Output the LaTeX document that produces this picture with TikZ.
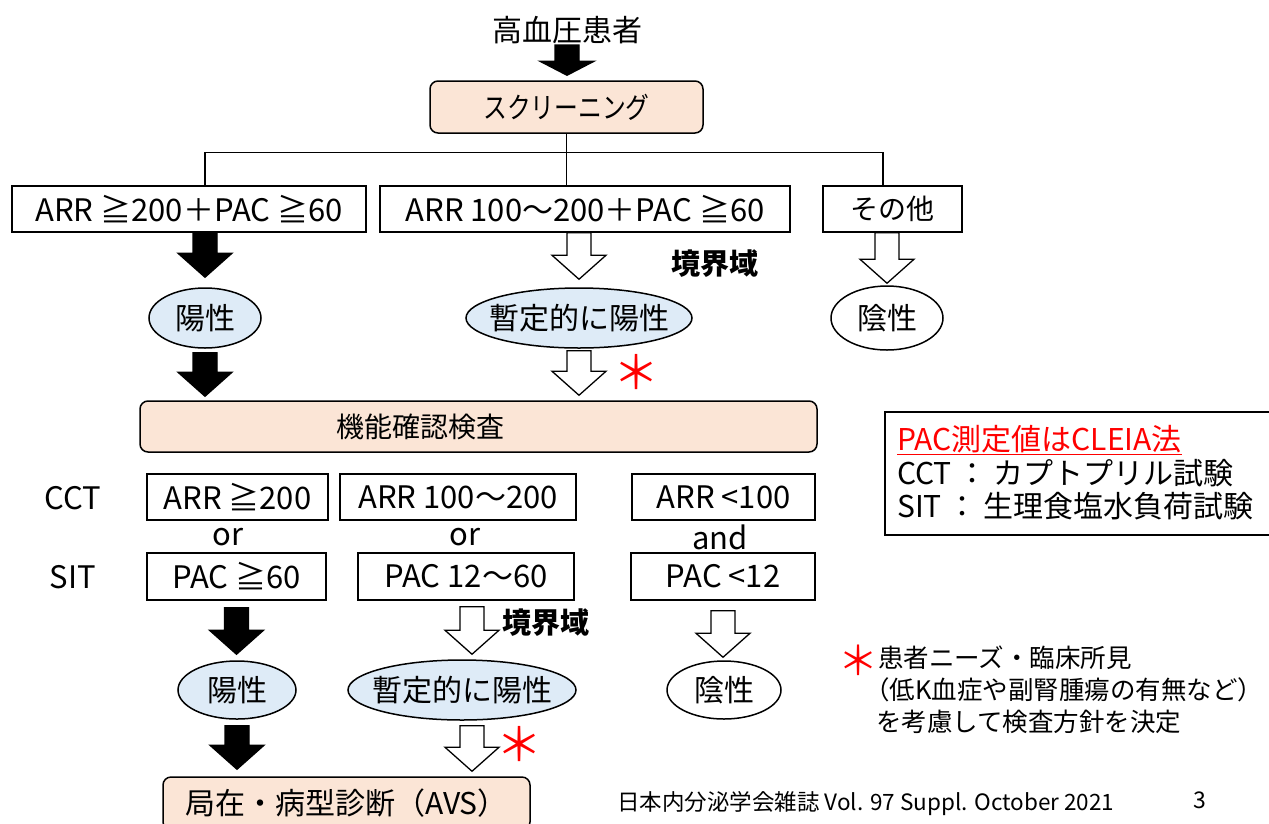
\documentclass[tikz,border=0pt]{standalone}
\usepackage{fontspec}
\setmainfont{Noto Sans CJK JP}
\usetikzlibrary{shapes.geometric,calc}
\definecolor{peach}{HTML}{FBE5D6}
\definecolor{lblue}{HTML}{DEEBF7}
\definecolor{ared}{HTML}{FF0000}
\tikzset{
 fs/.style={font=\fontsize{#1}{#1}\selectfont},
 box/.style={draw, line width=1.5pt, inner sep=0pt, fs=31},
 rbox/.style={box, rounded corners=8pt, fill=peach},
 ell/.style={ellipse, draw, line width=1.5pt, inner sep=0pt, fs=30},
 barrow/.style={line width=1.3pt, line join=miter, to path={let \p1=(\tikztostart), \p2=(\tikztotarget) in (\x1-12,\y1) -- (\x1+12,\y1) -- (\x1+12,\y2+#1) -- (\x1+27,\y2+#1) -- (\x1,\y2) -- (\x1-27,\y2+#1) -- (\x1-12,\y2+#1) -- cycle}},
 barrow/.default=24,
 blk/.style={barrow=#1, fill=black, draw=black},
 blk/.default=24,
 wht/.style={barrow=#1, fill=white, draw=black},
 wht/.default=24,
 tree/.style={line width=1.5pt},
 bdr/.style={font=\fontsize{29}{29}\selectfont\bfseries, inner sep=0pt},
 star/.style={text=ared, fs=46, inner sep=0pt},
 txt/.style={fs=31, inner sep=0pt},
 leg/.style={fs=30, inner sep=0pt, anchor=west},
}
\begin{document}
\begin{tikzpicture}[x=1pt,y=-1pt]
\useasboundingbox[fill=white] (0,0) rectangle (1269,823);
% top
\node[fs=30, inner sep=0pt] (hp) at (567,30) {高血圧患者};
\node[rbox, minimum width=273, minimum height=52, font=\fontsize{29}{29}\selectfont\addfontfeature{FakeStretch=0.82}] (scr) at (566.5,107) {スクリーニング};
\draw[blk=14] ($(hp.south)+(0,1)$) to ($(scr.north)+(0,-5)$);
% first row
\node[box, minimum width=354, minimum height=46] (A) at (189,209) {ARR ≧200＋PAC ≧60};
\node[box, minimum width=410, minimum height=46] (B) at (585,209) {ARR 100～200＋PAC ≧60};
\node[box, minimum width=139, minimum height=46, fs=28] (C) at (892.5,209) {その他};
\draw[tree] (scr.south) -- (scr.south |- B.north);
\draw[tree] (A.north -| 205,0) -- ++(0,-33) -| (C.north -| 883,0);
% ellipses row 1
\node[ell, fill=lblue, minimum width=112, minimum height=60] (e1) at (205,318) {\makebox[0pt]{陽性}};
\node[ell, fill=lblue, minimum width=226, minimum height=60] (e2) at (579,318) {\makebox[0pt]{暫定的に陽性}};
\node[ell, fill=white, minimum width=112, minimum height=64] (e3) at (887,318) {\makebox[0pt]{陰性}};
\node[bdr] (bd1) at (715,264) {境界域};
\draw[blk] (A.south -| e1) to ($(e1.north)+(0,-10)$);
\draw[wht] (B.south -| e2) to ($(e2.north)+(0,-8)$);
\draw[wht] (C.south -| e3) to ($(e3.north)+(0,-2)$);
% confirm
\node[rbox, minimum width=677, minimum height=51] (f) at (478.5,426.5) {};
\node[fs=28, inner sep=0pt] (flab) at (420,427) {機能確認検査};
\draw[blk] ($(e1.south)+(0,4)$) to ($(e1.south |- f.north)+(0,-4)$);
\draw[wht] ($(e2.south)+(0,2)$) to ($(e2.south |- f.north)+(0,-5)$);
\node[star] (s1) at (636,372) {＊};
% tests
\node[txt] (cct) at (73,498) {CCT};
\node[txt] (sit) at (73,577) {SIT};
\node[box, minimum width=181, minimum height=46] (c1) at (237.5,497) {ARR ≧200};
\node[box, minimum width=236, minimum height=46] (c2) at (458,497) {ARR 100～200};
\node[box, minimum width=183, minimum height=46] (c3) at (723.5,497) {ARR <100};
\node[txt] (or1) at (228,537) {or};
\node[txt] (or2) at (465,537) {or};
\node[txt] (and) at (720,537) {and};
\node[box, minimum width=179, minimum height=47] (p1) at (236.5,576.5) {PAC ≧60};
\node[box, minimum width=216, minimum height=47] (p2) at (466,576.5) {PAC 12～60};
\node[box, minimum width=184, minimum height=47] (p3) at (723,576.5) {PAC <12};
% ellipses row 2
\node[ell, fill=lblue, minimum width=118, minimum height=58] (e4) at (237,690) {\makebox[0pt]{陽性}};
\node[ell, fill=lblue, minimum width=228, minimum height=60] (e5) at (462,690) {\makebox[0pt]{暫定的に陽性}};
\node[ell, fill=white, minimum width=114, minimum height=58] (e6) at (724,690) {\makebox[0pt]{陰性}};
\node[bdr] (bd2) at (546,623) {境界域};
\coordinate (xm) at (472,0);
\draw[blk] ($(p1.south)+(0,7)$) to ($(e4.north)+(0,-6)$);
\draw[wht] ($(p2.south -| xm)+(0,6)$) to ($(xm |- e5.north)+(0,-5)$);
\draw[wht] ($(p3.south)+(0,10)$) to ($(e6.north)+(0,-3)$);
% AVS
\node[rbox, minimum width=367, minimum height=53, fs=30] (avs) at (346.5,803.5) {局在・病型診断（AVS）};
\draw[blk] ($(e4.south)+(0,6)$) to ($(e4.south |- avs.north)+(0,-7)$);
\draw[wht] ($(xm |- e5.south)+(0,5)$) to ($(xm |- avs.north)+(0,-5)$);
\node[star] (s2) at (519,744) {＊};
% legend
\draw[line width=1.5pt] (885,412) rectangle (1280,535);
\node[leg, text=ared] (lg1) at (897,440) {\underline{PAC測定値はCLEIA法}};
\node[leg] (lg2) at (897,473) {CCT\hspace{6pt}：\hspace{6pt}カプトプリル試験};
\node[leg] (lg3) at (897,506) {SIT\hspace{6pt}：\hspace{6pt}生理食塩水負荷試験};
% footnote
\node[star, fs=40] (s3) at (858,660) {＊};
\node[fs=25.5, inner sep=0pt, anchor=west] (fn1) at (878,658) {患者ニーズ・臨床所見};
\node[fs=25.5, inner sep=0pt, anchor=west] (fn2) at (864,690) {（低K血症や副腎腫瘍の有無など）};
\node[fs=25.5, inner sep=0pt, anchor=west] (fn3) at (876,722) {を考慮して検査方針を決定};
% footer
\node[fs=22.5, inner sep=0pt, anchor=west] (foot) at (617,804) {日本内分泌学会雑誌 Vol. 97 Suppl. October 2021};
\node[fs=23, inner sep=0pt] (pg) at (1200,800) {3};
\end{tikzpicture}
\end{document}
